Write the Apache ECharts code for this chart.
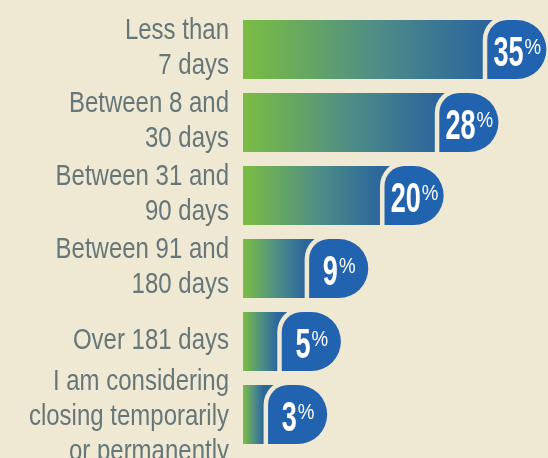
<!DOCTYPE html>
<html>
<head>
<meta charset="utf-8">
<script src="https://cdn.jsdelivr.net/npm/echarts@6/dist/echarts.min.js"></script>
<style>
  html, body { margin: 0; padding: 0; background: #efe8d3; }
  #chart { width: 548px; height: 458px; }
</style>
</head>
<body>
<div id="chart"></div>
<script>
var categories = [
  'Less than\n7 days',
  'Between 8 and\n30 days',
  'Between 31 and\n90 days',
  'Between 91 and\n180 days',
  'Over 181 days',
  'I am considering\nclosing temporarily\nor permanently'
]
var values = [35, 28, 20, 9, 5, 3]

var BG = '#efe8d3'
var FONT = '"Liberation Sans", Arial, sans-serif'

var chart = echarts.init(document.getElementById('chart'))

function measure(text, font) {
  var t = new echarts.graphic.Text({ style: { text: text, font: font } })
  return t.getBoundingRect().width
}

// the source uses a condensed face, so text is squeezed horizontally
function renderItem(params, api) {
  var v = api.value(0)
  var i = api.value(1)
  var start = api.coord([0, i])
  var end = api.coord([v, i])
  var h = api.size([0, 1])[1] * 0.81
  var y = end[1] - h / 2
  var x0 = start[0], x1 = end[0]
  var gap = 4.5
  var w = h
  var bx = x1 + gap

  var numFont = 'bold 43px ' + FONT
  var pctFont = '22px ' + FONT
  var sx = 0.63, psx = 0.85
  var numW = measure(String(v), numFont) * sx
  var pctW = measure('%', pctFont) * psx
  var total = numW + 1 + pctW
  var tx = bx + w / 2 - total / 2 + 0.5
  var lines = categories[i].split('\n').length

  return {
    type: 'group',
    children: [
      {
        type: 'text',
        x: start[0] - 14,
        y: end[1] - 1 + (lines > 2 ? 3 : 0),
        scaleX: 0.8,
        style: {
          text: categories[i], font: '30px ' + FONT, fill: '#66777a',
          align: 'right', verticalAlign: 'middle', lineHeight: 35
        }
      },
      {
        type: 'rect',
        shape: { x: x0, y: y, width: x1 - x0 + h * 0.5, height: h },
        style: {
          fill: new echarts.graphic.LinearGradient(x0, 0, x1, 0, [
            { offset: 0, color: '#7bbd42' },
            { offset: 0.55, color: '#4f8e86' },
            { offset: 1, color: '#2c679c' }
          ], true)
        }
      },
      {
        type: 'rect',
        shape: { x: bx - gap, y: y - gap, width: w + 2 * gap, height: h + 2 * gap, r: [20 + gap, h / 2 + gap, h / 2 + gap, 0] },
        style: { fill: BG }
      },
      {
        type: 'rect',
        shape: { x: bx, y: y, width: w, height: h, r: [20, h / 2, h / 2, 0] },
        style: { fill: '#2263b0' }
      },
      {
        type: 'text',
        x: tx,
        y: y + h / 2 + 5,
        scaleX: sx,
        style: { text: String(v), font: numFont, fill: '#ffffff', align: 'left', verticalAlign: 'middle' }
      },
      {
        type: 'text',
        x: tx + numW + 1,
        y: y + h / 2 - 1.5,
        scaleX: psx,
        style: { text: '%', font: pctFont, fill: '#ffffff', align: 'left', verticalAlign: 'middle' }
      }
    ]
  }
}

var option = {
  backgroundColor: BG,
  animation: false,
  grid: { left: 243, right: 31, top: 13, bottom: 7, outerBoundsMode: 'none', containLabel: false },
  xAxis: {
    type: 'value',
    min: 0,
    max: 40,
    show: false
  },
  yAxis: {
    type: 'category',
    inverse: true,
    data: categories,
    axisLine: { show: false },
    axisTick: { show: false },
    axisLabel: { show: false }
  },
  series: [{
    type: 'custom',
    clip: false,
    renderItem: renderItem,
    encode: { x: 0, y: 1 },
    data: values.map(function (v, i) { return [v, i] })
  }]
}

chart.setOption(option)
</script>
</body>
</html>
